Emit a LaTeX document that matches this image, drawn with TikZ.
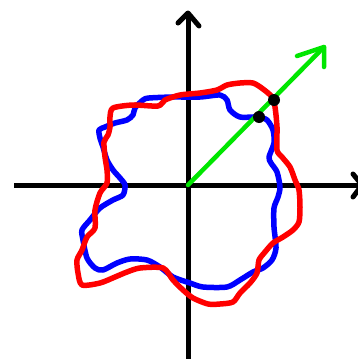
\documentclass[tikz,border=0pt]{standalone}
\usetikzlibrary{calc}
\definecolor{curveone}{RGB}{0,0,255}
\definecolor{curvetwo}{RGB}{255,0,0}
\definecolor{raycolor}{RGB}{0,230,0}
\tikzset{
  axisline/.style={line width=5pt, black, line cap=round, line join=round},
  closedcurve/.style={line width=5.5pt, line join=round},
  rayline/.style={line width=4.5pt, raycolor, line cap=round, line join=round},
}
\begin{document}
\begin{tikzpicture}[x=1pt, y=-1pt]
    \useasboundingbox (0,0) rectangle (357,359);
    \coordinate (O) at (188,185);
    % axes
    \draw[axisline, line cap=butt] (14,185) -- (362,185);
    \draw[axisline, line cap=butt] (188,359) -- (188,14);
    \draw[axisline] (178,23) -- (188,13) -- (199,26);
    \draw[axisline] (353,174) -- (362,185) -- (353,197);
    % blue curve
    \draw[closedcurve, curveone] plot[smooth cycle, tension=0.45] coordinates {
      (149,98) (173,97) (200,97) (220,95) (227,100) (230,110) (240,117)
      (258,117) (267,120) (273,130) (274,143) (269,157) (271,163) (277,172)
      (280,187) (278,197) (274,208) (274,227) (276,248) (272,260) (263,268)
      (253,272) (240,280) (227,287) (203,287) (190,283) (173,277) (160,267)
      (147,260) (130,259) (117,263) (103,270) (95,268) (87,258) (83,240)
      (82,230) (90,220) (100,208) (113,200) (123,195) (125,185) (120,178)
      (113,170) (107,160) (103,147) (100,138) (99,130) (105,127) (115,123)
      (127,120) (133,115) (135,108) (143,100)};
    % red curve
    \draw[closedcurve, curvetwo] plot[smooth cycle, tension=0.45] coordinates {
      (113,108) (133,105) (158,106) (165,100) (180,95) (200,93) (217,90)
      (227,85) (240,83) (253,83) (263,89) (272,97) (275,107) (277,127)
      (277,150) (282,157) (290,167) (295,180) (299,190) (300,207) (299,222)
      (293,230) (283,237) (273,243) (265,252) (259,260) (257,273) (250,283)
      (240,293) (233,302) (220,304) (208,304) (193,298) (183,290) (173,280)
      (163,268) (140,268) (127,272) (115,277) (100,283) (82,285) (78,273)
      (77,260) (82,250) (87,237) (95,228) (95,210) (100,193) (107,183)
      (107,170) (105,157) (104,142) (108,135) (110,127) (110,117)};
    % ray
    \coordinate (tip) at (324,47);
    \draw[rayline] (O) -- (tip);
    \draw[rayline] (297,56) -- (tip) -- (324,67);
    % intersection points
    \fill (259,117) circle (6pt);
    \fill (274,100) circle (6pt);
  \end{tikzpicture}
\end{document}
